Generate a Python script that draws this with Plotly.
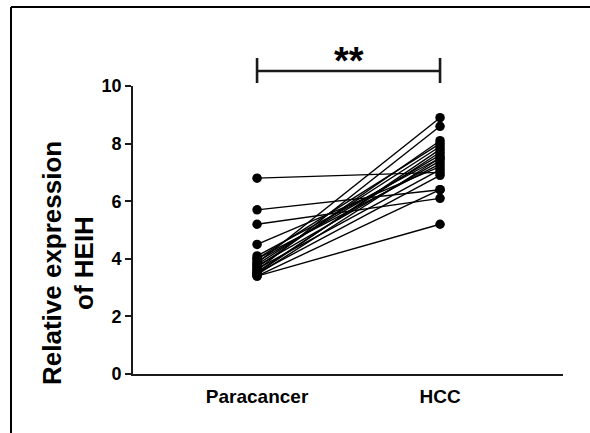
import plotly.graph_objects as go

categories = ["Paracancer", "HCC"]
paracancer = [6.8, 5.7, 5.2, 4.5, 4.1, 4.0, 4.0, 3.9, 3.85, 3.8, 3.75, 3.7, 3.65, 3.6, 3.55, 3.5, 3.5, 3.45, 3.4, 3.4]
hcc = [7.0, 6.4, 6.1, 7.2, 7.5, 8.0, 7.3, 7.6, 8.9, 7.9, 7.4, 8.1, 7.1, 8.6, 7.7, 6.9, 7.8, 7.5, 6.4, 5.2]
y_ticks = [0, 2, 4, 6, 8, 10]

FONT = "Liberation Sans, Arial, sans-serif"

fig = go.Figure()
for a, b in zip(paracancer, hcc):
    fig.add_trace(go.Scatter(
        x=[0, 1], y=[a, b], mode="lines+markers",
        line=dict(color="black", width=1.4),
        marker=dict(color="black", size=9.5),
        showlegend=False, hoverinfo="skip", cliponaxis=False))

W0, W1 = 133, 563
T, B = 86, 374
fig.update_layout(
    width=590, height=433,
    margin=dict(l=W0, r=590 - W1, t=T, b=433 - B),
    plot_bgcolor="white", paper_bgcolor="white",
    font=dict(family=FONT, color="black"),
)
fig.update_xaxes(
    range=[-0.678, 1.672], tickvals=[0, 1], ticktext=categories,
    showgrid=False, zeroline=False, showline=True, linecolor="#1a1a1a", linewidth=1.6,
    ticks="", ticklabelstandoff=4,
    tickfont=dict(size=19, family=FONT, weight="bold"),
)
fig.update_yaxes(
    range=[0, 10], tickvals=y_ticks,
    showgrid=False, zeroline=False, showline=True, linecolor="#1a1a1a", linewidth=1.6,
    ticks="outside", ticklen=6, tickwidth=1.5, tickcolor="#1a1a1a",
    tickfont=dict(size=18, family=FONT, weight="bold"),
)

def py(p):
    return (B - p) / (B - T)

def px(p):
    return (p - W0) / (W1 - W0)

# y title
fig.add_annotation(x=px(52), y=py(263), xref="paper", yref="paper",
                   text="Relative expression", textangle=-90, showarrow=False,
                   font=dict(size=26, weight="bold"), xanchor="center", yanchor="middle")
fig.add_annotation(x=px(84), y=py(263), xref="paper", yref="paper",
                   text="of HEIH", textangle=-90, showarrow=False,
                   font=dict(size=26, weight="bold"), xanchor="center", yanchor="middle")

# significance bracket
lw = 2.6
fig.add_shape(type="line", xref="x", yref="paper", x0=0, x1=1, y0=py(71), y1=py(71),
              line=dict(color="#1a1a1a", width=lw))
for xv in [0, 1]:
    fig.add_shape(type="line", xref="x", yref="paper", x0=xv, x1=xv, y0=py(58), y1=py(83),
                  line=dict(color="#1a1a1a", width=lw))
fig.add_annotation(x=0.5, y=py(61), xref="x", yref="paper", text="**", showarrow=False,
                   font=dict(size=38, weight="bold"), xanchor="center", yanchor="middle")

# frame (left and top)
fig.add_shape(type="line", xref="paper", yref="paper", x0=px(11), x1=px(11), y0=py(7), y1=py(433),
              line=dict(color="black", width=2))
fig.add_shape(type="line", xref="paper", yref="paper", x0=px(11), x1=px(590), y0=py(7), y1=py(7),
              line=dict(color="black", width=2))

fig.write_html("out.html", config={"displayModeBar": False},
               post_script="document.body.style.margin='0';document.body.style.overflow='hidden';"
                           "document.documentElement.style.overflow='hidden';")
